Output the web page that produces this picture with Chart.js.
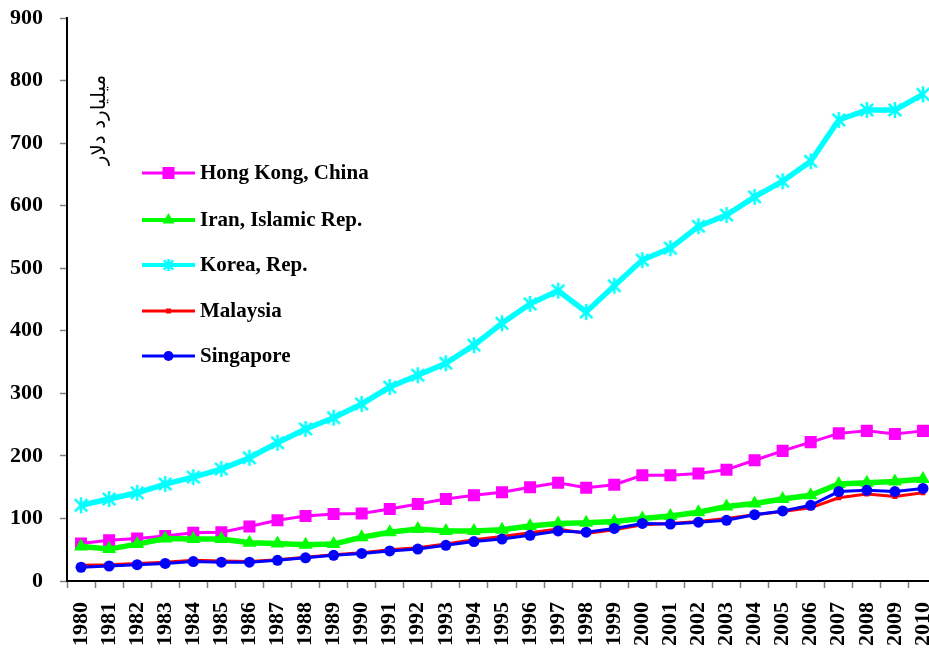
<!DOCTYPE html>
<html>
<head>
<meta charset="utf-8">
<script src="https://cdn.jsdelivr.net/npm/chart.js@4/dist/chart.umd.min.js"></script>
<style>
  html, body { margin: 0; padding: 0; background: #fff; overflow: hidden; width: 929px; height: 653px; }
  #wrap { position: relative; width: 946px; height: 653px; }
</style>
</head>
<body>
<div id="wrap"><canvas id="c" width="946" height="653"></canvas></div>
<script>
// ---- data ----
const years = ["1980","1981","1982","1983","1984","1985","1986","1987","1988","1989","1990","1991","1992","1993","1994","1995","1996","1997","1998","1999","2000","2001","2002","2003","2004","2005","2006","2007","2008","2009","2010"];
const hongKong  = [60,65,68,72,77,78,87,97,104,107,108,115,123,131,137,142,150,157,149,154,169,169,172,178,193,208,222,236,240,235,240];
const iran      = [55,51,59,68,67,67,61,60,58,59,70,78,83,80,80,82,88,92,93,95,100,104,110,119,124,131,137,155,157,159,163];
const korea     = [121,131,141,155,166,179,197,221,243,261,283,310,329,348,377,412,443,464,430,472,513,532,567,585,614,639,671,737,753,753,778];
const malaysia  = [25,26,28,30,33,32,31,34,38,42,45,50,53,59,66,71,77,83,76,82,90,92,95,100,106,111,117,133,139,135,141];
const singapore = [22,24,26,28,31,30,30,33,37,41,44,48,51,57,63,67,73,80,78,84,92,91,94,97,106,112,121,143,145,143,148];
const seriesNames = ["Hong Kong, China","Iran, Islamic Rep.","Korea, Rep.","Malaysia","Singapore"];
const yTicks = [0,100,200,300,400,500,600,700,800,900];
const yTitle = "میلیارد دلار";

// asterisk marker for Korea
function makeAsterisk(size, color, lw) {
  const cv = document.createElement('canvas');
  cv.width = size; cv.height = size;
  const g = cv.getContext('2d');
  g.strokeStyle = color; g.lineWidth = lw; g.lineCap = 'butt';
  const m = size / 2, a = size / 2 - 1, d = a * 0.78;
  g.beginPath();
  g.moveTo(m, m - a); g.lineTo(m, m + a);
  g.moveTo(m - d, m - d); g.lineTo(m + d, m + d);
  g.moveTo(m + d, m - d); g.lineTo(m - d, m + d);
  g.stroke();
  return cv;
}
const star = makeAsterisk(18, '#00FFFF', 2.5);
const starSmall = makeAsterisk(14, '#00FFFF', 2.5);

const FONT = "'Liberation Serif', 'Times New Roman', serif";

const datasets = [
  { label: seriesNames[0], data: hongKong, borderColor: '#FF00FF', backgroundColor: '#FF00FF', borderWidth: 3, pointStyle: 'rect', pointRadius: 8.5, pointBorderWidth: 0, order: 5, legendRadius: 8.5 },
  { label: seriesNames[1], data: iran, borderColor: '#00FF00', backgroundColor: '#00FF00', borderWidth: 5.5, pointStyle: 'triangle', pointRadius: 8, pointBorderWidth: 0, order: 4, legendRadius: 7 },
  { label: seriesNames[2], data: korea, borderColor: '#00FFFF', backgroundColor: '#00FFFF', borderWidth: 5.5, pointStyle: star, pointRadius: 9, pointBorderWidth: 0, order: 3, legendStyle: starSmall },
  { label: seriesNames[3], data: malaysia, borderColor: '#FF0000', backgroundColor: '#FF0000', borderWidth: 3, pointStyle: 'rect', pointRadius: 3.5, pointBorderWidth: 0, order: 2, legendRadius: 3.5 },
  { label: seriesNames[4], data: singapore, borderColor: '#0000FF', backgroundColor: '#0000FF', borderWidth: 3, pointStyle: 'circle', pointRadius: 5.5, pointBorderWidth: 0, order: 1, legendRadius: 5 }
];
datasets.forEach(d => { d.tension = 0; d.fill = false; d.pointHoverRadius = d.pointRadius; });

const legendPlugin = {
  id: 'inlineLegend',
  afterDraw(chart) {
    const ctx = chart.ctx;
    const rows = [173, 220, 265, 311, 356];
    chart.data.datasets.forEach((ds, i) => {
      const y = rows[i];
      ctx.save();
      ctx.strokeStyle = ds.borderColor;
      ctx.lineWidth = Math.min(ds.borderWidth, 4);
      ctx.beginPath(); ctx.moveTo(142, y); ctx.lineTo(195, y); ctx.stroke();
      ctx.fillStyle = ds.backgroundColor;
      ctx.strokeStyle = ds.borderColor;
      const style = ds.legendStyle || ds.pointStyle;
      if (Chart.helpers && Chart.helpers.drawPoint) {
        Chart.helpers.drawPoint(ctx, { pointStyle: style, radius: ds.legendRadius || 7, rotation: 0, borderWidth: 0 }, 168.5, y);
      }
      ctx.fillStyle = '#000';
      ctx.font = "bold 21px " + FONT;
      ctx.textBaseline = 'middle';
      ctx.textAlign = 'left';
      ctx.fillText(ds.label, 200, y + 1);
      ctx.restore();
    });
    // rotated y-axis title inside plot
    ctx.save();
    ctx.translate(100, 120);
    ctx.rotate(-Math.PI / 2);
    ctx.fillStyle = '#000';
    ctx.font = "20px 'DejaVu Sans', sans-serif";
    ctx.textAlign = 'center';
    ctx.textBaseline = 'middle';
    ctx.fillText(yTitle, 0, 0);
    ctx.restore();
  }
};

new Chart(document.getElementById('c'), {
  type: 'line',
  data: { labels: years, datasets },
  options: {
    responsive: false,
    animation: false,
    events: [],
    layout: { padding: { top: 18, right: 6, left: 0, bottom: 0 } },
    plugins: { legend: { display: false }, tooltip: { enabled: false } },
    scales: {
      x: {
        type: 'category',
        offset: true,
        grid: { display: true, drawOnChartArea: false, offset: true, tickLength: 7, tickColor: '#808080', tickWidth: 1.5 },
        border: { display: true, color: '#000', width: 2 },
        ticks: { autoSkip: false, minRotation: 90, maxRotation: 90, padding: 14, color: '#000', font: { family: FONT, size: 22, weight: 'bold' } },
        afterFit(scale) { scale.height = 72; scale.paddingLeft = 0; scale.paddingRight = 0; }
      },
      y: {
        min: 0, max: 900,
        afterBuildTicks(scale) { scale.ticks = yTicks.map(v => ({ value: v })); },
        grid: { display: true, drawOnChartArea: false, tickLength: 7, tickColor: '#808080', tickWidth: 1.5 },
        border: { display: true, color: '#000', width: 2 },
        ticks: { padding: 17, color: '#000', font: { family: FONT, size: 22, weight: 'bold' } },
        afterFit(scale) { scale.width = 67; scale.paddingTop = 0; scale.paddingBottom = 0; }
      }
    }
  },
  plugins: [legendPlugin]
});
</script>
</body>
</html>
